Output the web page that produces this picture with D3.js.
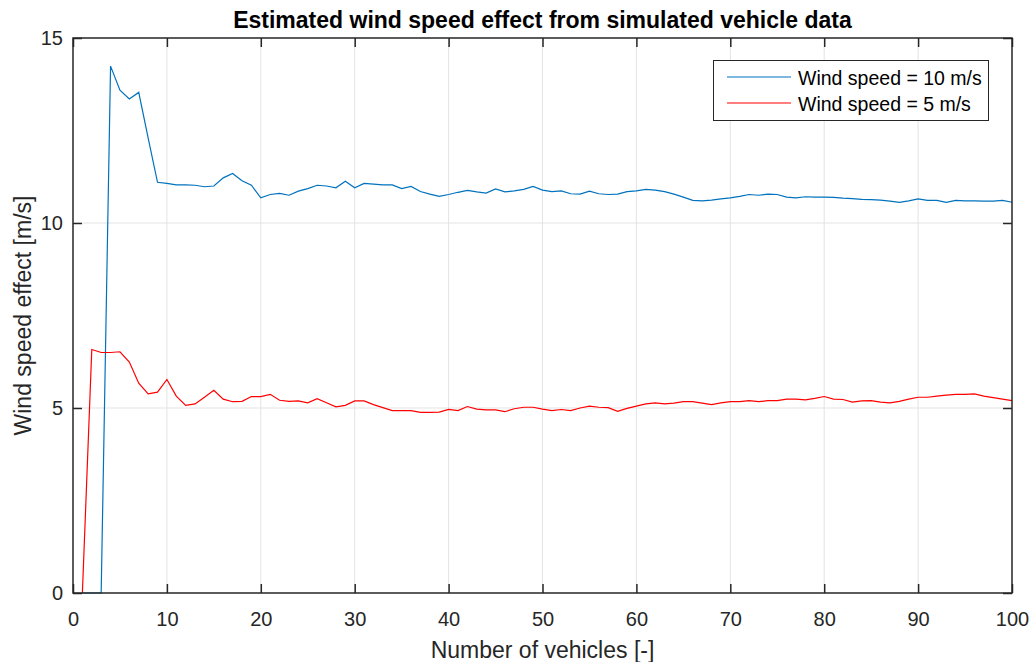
<!DOCTYPE html>
<meta charset="utf-8">
<style>
  body { margin: 0; background: #fff; }
  svg { font-family: "Liberation Sans", Arial, sans-serif; }
  .line { fill: none; stroke-width: 1.2px; }
  .grid line { stroke: #e3e3e3; }
</style>
<body>
<script src="https://d3js.org/d3.v7.min.js"></script>
<script>
  // data
  var vehicles = d3.range(1, 101);
  var wind10 = [0, 0, 0, 14.24, 13.59, 13.35, 13.53, 12.3, 11.1, 11.07,
    11.03, 11.03, 11.02, 10.98, 11.0, 11.22, 11.34, 11.14, 11.02, 10.68,
    10.77, 10.8, 10.75, 10.86, 10.93, 11.02, 11.0, 10.95, 11.13, 10.95,
    11.07, 11.05, 11.03, 11.03, 10.93, 10.99, 10.85, 10.78, 10.72, 10.77,
    10.83, 10.88, 10.84, 10.81, 10.92, 10.84, 10.87, 10.91, 10.99, 10.89,
    10.85, 10.87, 10.79, 10.78, 10.86, 10.79, 10.77, 10.78, 10.85, 10.87,
    10.91, 10.89, 10.85, 10.78, 10.70, 10.61, 10.6, 10.62, 10.65, 10.68,
    10.72, 10.77, 10.75, 10.78, 10.77, 10.70, 10.68, 10.71, 10.70, 10.70,
    10.69, 10.67, 10.66, 10.64, 10.63, 10.62, 10.59, 10.56, 10.6, 10.65,
    10.61, 10.61, 10.56, 10.61, 10.6, 10.6, 10.59, 10.59, 10.61, 10.56];
  var wind5 = [0, 6.58, 6.5, 6.5, 6.52, 6.24, 5.67, 5.38, 5.43, 5.77,
    5.32, 5.07, 5.11, 5.29, 5.48, 5.24, 5.17, 5.18, 5.31, 5.31,
    5.37, 5.21, 5.18, 5.19, 5.14, 5.25, 5.14, 5.03, 5.07, 5.19,
    5.19, 5.09, 5.01, 4.93, 4.93, 4.93, 4.88, 4.88, 4.89, 4.96,
    4.93, 5.04, 4.97, 4.95, 4.95, 4.90, 4.98, 5.02, 5.02, 4.97,
    4.93, 4.96, 4.93, 5.0, 5.05, 5.02, 5.01, 4.91, 4.99, 5.05,
    5.11, 5.14, 5.11, 5.13, 5.17, 5.17, 5.13, 5.09, 5.14, 5.17,
    5.17, 5.2, 5.17, 5.2, 5.2, 5.24, 5.24, 5.22, 5.26, 5.31,
    5.24, 5.23, 5.16, 5.19, 5.2, 5.16, 5.14, 5.18, 5.24, 5.29,
    5.29, 5.32, 5.35, 5.37, 5.37, 5.38, 5.32, 5.28, 5.24, 5.2];
  var seriesNames = ["Wind speed = 10 m/s", "Wind speed = 5 m/s"];
  var seriesColors = ["#0072bd", "#ff0000"];
  var xTicks = d3.range(0, 101, 10);
  var yTicks = [0, 5, 10, 15];

  var margin = {top: 38, right: 20, bottom: 69, left: 73},
    width = 1032 - margin.left - margin.right,
    height = 662 - margin.top - margin.bottom;

  var x = d3.scaleLinear().domain([0, 100]).range([0, width]);
  var y = d3.scaleLinear().domain([0, 15]).range([height, 0]);

  var svg = d3.select("body").append("svg")
    .attr("width", 1032)
    .attr("height", 662)
    .append("g")
    .attr("transform", "translate(" + margin.left + "," + margin.top + ")");

  // grid
  svg.append("g").attr("class", "grid")
    .selectAll("line").data(xTicks.slice(1, -1)).enter().append("line")
    .attr("x1", x).attr("x2", x).attr("y1", 0).attr("y2", height);
  svg.append("g").attr("class", "grid")
    .selectAll("line").data(yTicks.slice(1, -1)).enter().append("line")
    .attr("y1", y).attr("y2", y).attr("x1", 0).attr("x2", width);

  // lines
  var series = [wind10, wind5];
  var line = d3.line()
    .x(function(d, i) { return x(vehicles[i]); })
    .y(function(d) { return y(d); });
  series.forEach(function(s, k) {
    svg.append("path")
      .datum(s)
      .attr("class", "line")
      .attr("stroke", seriesColors[k])
      .attr("d", line);
  });

  // axes, ticks inward on all four sides
  function styleAxis(g) {
    g.select(".domain").remove();
    g.selectAll(".tick line").attr("stroke", "#262626").attr("stroke-width", 1.5);
    g.selectAll(".tick text").attr("fill", "#262626").attr("font-size", 20)
      .attr("font-family", "Liberation Sans, Arial, sans-serif");
  }
  svg.append("g")
    .attr("transform", "translate(0," + height + ")")
    .call(d3.axisBottom(x).tickValues(xTicks).tickSizeInner(-9).tickPadding(19))
    .call(styleAxis);
  svg.append("g")
    .call(d3.axisTop(x).tickValues(xTicks).tickSizeInner(-9).tickFormat(""))
    .call(styleAxis);
  svg.append("g")
    .call(d3.axisLeft(y).tickValues(yTicks).tickSizeInner(-9).tickPadding(10))
    .call(styleAxis);
  svg.append("g")
    .attr("transform", "translate(" + width + ",0)")
    .call(d3.axisRight(y).tickValues(yTicks).tickSizeInner(-9).tickFormat(""))
    .call(styleAxis);

  svg.append("rect")
    .attr("width", width).attr("height", height)
    .attr("fill", "none").attr("stroke", "#262626").attr("stroke-width", 1.5);

  // title and labels
  svg.append("text")
    .attr("x", width / 2).attr("y", -10)
    .attr("text-anchor", "middle")
    .attr("font-size", 23).attr("font-weight", "bold").attr("fill", "#000")
    .text("Estimated wind speed effect from simulated vehicle data");
  svg.append("text")
    .attr("x", width / 2).attr("y", height + 65)
    .attr("text-anchor", "middle")
    .attr("font-size", 23).attr("fill", "#262626")
    .text("Number of vehicles [-]");
  svg.append("text")
    .attr("transform", "translate(-42," + (height / 2) + ") rotate(-90)")
    .attr("text-anchor", "middle")
    .attr("font-size", 23).attr("fill", "#262626")
    .text("Wind speed effect [m/s]");

  // legend
  var lg = svg.append("g").attr("transform", "translate(" + (713 - margin.left) + "," + (60 - margin.top) + ")");
  lg.append("rect")
    .attr("x", 0.5).attr("y", 0.5)
    .attr("width", 275).attr("height", 60)
    .attr("fill", "#fff").attr("stroke", "#262626").attr("stroke-width", 1);
  seriesNames.forEach(function(name, k) {
    var yy = 17 + k * 26;
    lg.append("line")
      .attr("x1", 14).attr("x2", 78).attr("y1", yy).attr("y2", yy)
      .attr("stroke", seriesColors[k]).attr("stroke-width", 1.2);
    lg.append("text")
      .attr("x", 85).attr("y", yy + 8)
      .attr("font-size", 19.5).attr("fill", "#000")
      .text(name);
  });
</script>
</body>
